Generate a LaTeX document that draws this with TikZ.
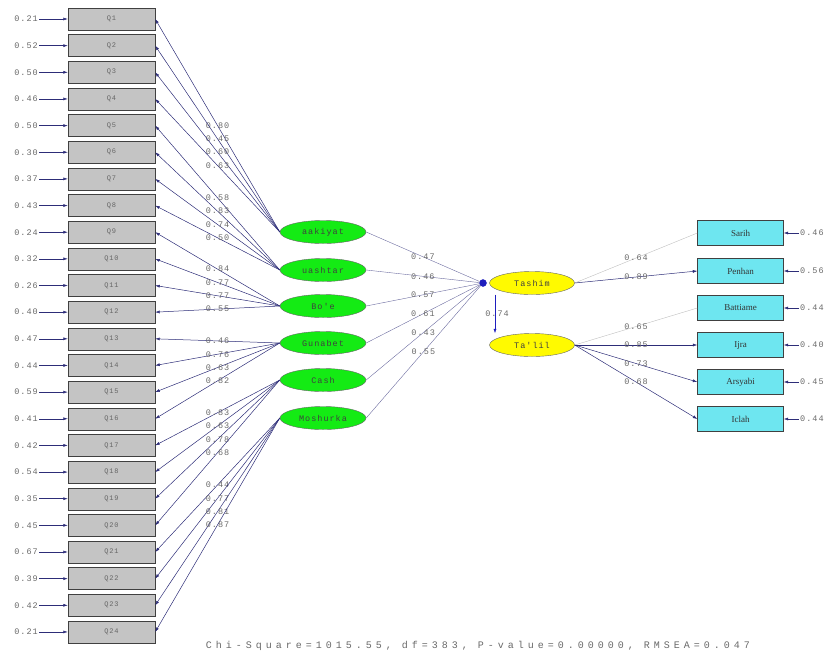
\documentclass[tikz,border=0pt]{standalone}
\usepackage{fontspec}
\setmainfont{Liberation Serif}
\newfontfamily\lisfont[LetterSpace=12]{Liberation Mono}
\newfontfamily\fitfont[LetterSpace=40]{Liberation Mono}
\usetikzlibrary{arrows.meta, shapes.geometric}

\definecolor{qgray}{RGB}{196,196,196}
\definecolor{latgreen}{RGB}{20,235,20}
\definecolor{latyellow}{RGB}{255,250,0}
\definecolor{obscyan}{RGB}{110,230,240}
\definecolor{pathblue}{RGB}{45,45,120}
\definecolor{dotblue}{RGB}{30,30,190}
\definecolor{txtgray}{RGB}{105,105,105}

\tikzset{
  qbox/.style={draw=black!75, fill=qgray, minimum width=87pt, minimum height=22pt, inner sep=0pt, text=black!60, font=\lisfont\fontsize{7}{7}\selectfont},
  obox/.style={draw=black!75, fill=obscyan, minimum width=86pt, minimum height=25pt, inner sep=0pt, text=black!80, font=\fontsize{9}{9}\selectfont},
  latg/.style={ellipse, draw=black!60, fill=latgreen, minimum width=86pt, minimum height=23pt, inner sep=0pt, text=black!75, font=\lisfont\fontsize{8.5}{9}\selectfont},
  laty/.style={ellipse, draw=black!60, fill=latyellow, minimum width=85pt, minimum height=23pt, inner sep=0pt, text=black!75, font=\lisfont\fontsize{8.5}{9}\selectfont},
  val/.style={text=txtgray, inner sep=1pt, font=\lisfont\fontsize{8.5}{9}\selectfont},
  lbl/.style={val, midway},
  arr/.style={-{Latex[length=4.5pt,width=3pt]}, draw=pathblue, line width=0.5pt},
}

\begin{document}
\begin{tikzpicture}[x=1pt, y=-1pt]
    \useasboundingbox (0,0) rectangle (840,659);

    % indicators of the six exogenous factors
    \foreach \i/\e in {1/0.21, 2/0.52, 3/0.50, 4/0.46, 5/0.50, 6/0.30, 7/0.37, 8/0.43, 9/0.24, 10/0.32, 11/0.26, 12/0.40, 13/0.47, 14/0.44, 15/0.59, 16/0.41, 17/0.42, 18/0.54, 19/0.35, 20/0.45, 21/0.67, 22/0.39, 23/0.42, 24/0.21} {
        \node (q\i) [qbox] at (111.5, {19+(\i-1)*26.65}) {Q\i};
        \node (e\i) [val, anchor=east] at (39, {19+(\i-1)*26.65}) {\e};
        \draw[arr] (e\i) -- (q\i);
    }

    \node (f1) [latg] at (323,232) {aakiyat};
    \node (f2) [latg] at (323,270) {uashtar};
    \node (f3) [latg] at (323,306) {Bo'e};
    \node (f4) [latg] at (323,343) {Gunabet};
    \node (f5) [latg] at (323,380) {Cash};
    \node (f6) [latg] at (323,418) {Moshurka};

    \foreach \i/\f/\l in {1/1/0.80, 2/1/0.45, 3/1/0.60, 4/1/0.63, 5/2/0.58, 6/2/0.83, 7/2/0.74, 8/2/0.50, 9/3/0.84, 10/3/0.77, 11/3/0.77, 12/3/0.55, 13/4/0.46, 14/4/0.76, 15/4/0.63, 16/4/0.82, 17/5/0.83, 18/5/0.63, 19/5/0.78, 20/5/0.68, 21/6/0.44, 22/6/0.77, 23/6/0.81, 24/6/0.87}
        \draw[arr] (f\f.west) -- (q\i.east) node[lbl] {\l};

    % structural part
    \node (dot) [circle, fill=dotblue, draw=dotblue, minimum size=7pt, inner sep=0pt] at (483,283) {};
    \node (tashim) [laty] at (532,283) {Tashim};
    \node (talil) [laty] at (532,345) {Ta'lil};

    \foreach \f/\l in {1/0.47, 2/0.46, 3/0.57, 4/0.61, 5/0.43, 6/0.55}
        \draw[draw=pathblue!70] (f\f.east) -- (dot) node[lbl] {\l};

    \draw[arr, draw=dotblue] ([xshift=-37pt]tashim.south) -- ([xshift=-37pt]talil.north) node[lbl, xshift=2pt] {0.74};

    % indicators of the endogenous factors
    \foreach \n/\t/\y/\e in {sarih/Sarih/233/0.46, penhan/Penhan/271/0.56, battiame/Battiame/308/0.44, ijra/Ijra/345/0.40, arsyabi/Arsyabi/382/0.45, iclah/Iclah/419/0.44} {
        \node (\n) [obox] at (740.5,\y) {\t};
        \node (e\n) [val, anchor=west] at (799,\y) {\e};
        \draw[arr] (e\n) -- (\n);
    }

    \draw[draw=black!25] (tashim.east) -- (sarih.west) node[lbl] {0.64};
    \draw[arr] (tashim.east) -- (penhan.west) node[lbl] {0.89};
    \draw[draw=black!25] (talil.east) -- (battiame.west) node[lbl] {0.65};
    \draw[arr] (talil.east) -- (ijra.west) node[lbl] {0.85};
    \draw[arr] (talil.east) -- (arsyabi.west) node[lbl] {0.73};
    \draw[arr] (talil.east) -- (iclah.west) node[lbl] {0.68};

    \node (fit) [text=txtgray, inner sep=1pt, font=\fitfont\fontsize{10}{10}\selectfont] at (478,646) {Chi-Square=1015.55, df=383, P-value=0.00000, RMSEA=0.047};
\end{tikzpicture}
\end{document}
